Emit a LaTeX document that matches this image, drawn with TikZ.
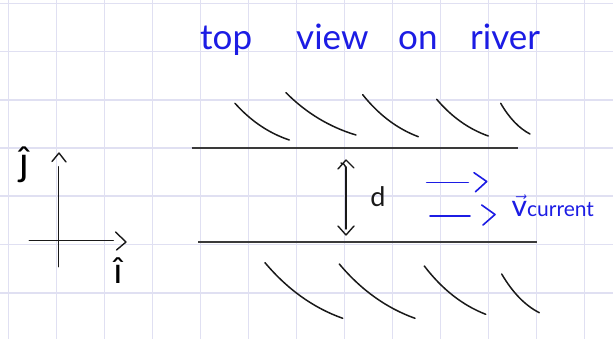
\documentclass[tikz,border=0pt]{standalone}
\usepackage{fontspec}
\setmainfont{Lato}
\usetikzlibrary{calc}
\definecolor{gridc}{RGB}{224,224,242}
\definecolor{handblue}{RGB}{28,28,228}
\definecolor{bankc}{RGB}{58,58,58}
\definecolor{inkc}{RGB}{25,25,25}
\tikzset{
  gridline/.style={draw=gridc, line width=1.6pt},
  bank/.style={draw=bankc, line width=2.3pt},
  hatch/.style={draw=inkc, line width=1.5pt, line cap=round},
  ink/.style={draw=inkc, line width=1.4pt, line cap=round, line join=round},
  blueink/.style={draw=handblue, line width=1.6pt, line cap=round, line join=round},
  title/.style={text=handblue, inner sep=0pt, anchor=base west, font=\fontsize{35}{35}\selectfont},
  lbl/.style={inner sep=0pt}
}
\begin{document}
\begin{tikzpicture}[x=1pt,y=-1pt]
\useasboundingbox (0,0) rectangle (613,339);
\fill[white] (0,0) rectangle (613,339);
% graph paper
\foreach \k in {0,...,12} \draw[gridline] ({8.3+48*\k},0) -- ({8.3+48*\k},339);
\foreach \k in {0,...,6} \draw[gridline] (0,{3.5+48.2*\k}) -- (613,{3.5+48.2*\k});

% title
\node[title] (w1) at (200,50) {top};
\node[title] (w2) at (296,50) {view};
\node[title] (w3) at (398,50) {on};
\node[title] (w4) at (470,50) {river};

% river banks
\coordinate (tb1) at (191.5,148.3);
\coordinate (tb2) at (518,148.3);
\coordinate (bb1) at (198,241.7);
\coordinate (bb2) at (537,241.7);
\draw[bank] (tb1) -- (tb2);
\draw[bank] (bb1) -- (bb2);

% upper hatching
\draw[hatch] (235,103.3) .. controls (250.7,120.9) and (268.8,133.1) .. (289.3,140);
\draw[hatch] (286,92.7) .. controls (306.2,113.0) and (329.6,127.1) .. (356,135);
\draw[hatch] (362.7,94.7) .. controls (378.8,114.9) and (397.3,128.8) .. (418.3,136.7);
\draw[hatch] (436.7,99.3) .. controls (451.6,116.9) and (468.8,129.1) .. (488.3,136);
\draw[hatch] (500.7,103.3) .. controls (509.2,118.0) and (519,128.3) .. (530,134);
% lower hatching
\draw[hatch] (265,262.7) .. controls (287.5,289.4) and (313.4,307.9) .. (342.7,318.3);
\draw[hatch] (339.3,264) .. controls (361.2,290.1) and (386.5,308.1) .. (415,318.3);
\draw[hatch] (424.3,266) .. controls (442.0,289.2) and (462.5,305.3) .. (485.7,314.3);
\draw[hatch] (501.7,274) .. controls (512.6,292.6) and (525.1,305.5) .. (539.3,312.7);

% axes
\coordinate (ay1) at (58.3,166.7);
\coordinate (ay2) at (58.3,266.7);
\coordinate (ax1) at (29.3,240.7);
\coordinate (ax2) at (113.3,240.7);
\draw[ink] (ay1) -- (ay2);
\draw[ink] (ax1) -- (ax2);
\draw[ink] (52,161.5) -- (59,153) -- (66,162);
\draw[ink] (115.5,232) -- (126,242) -- (116.5,250);
\node[lbl, font=\fontsize{40}{40}\selectfont] (jhat) at (24,165) {ĵ};
\node[lbl, font=\fontsize{36}{36}\selectfont] (ihat) at (118,271) {î};

% width d
\coordinate (d1) at (345.8,167);
\coordinate (d2) at (345.8,229);
\draw[ink] (d1) .. controls (344,164) .. (341,163);
\draw[ink] (d1) -- (d2);
\draw[ink] (338,169) -- (346,160) -- (354,168);
\draw[ink] (338,226) -- (346,235) -- (354,226);
\node[lbl, font=\fontsize{27}{27}\selectfont, text=inkc] (dl) at (378,197) {d};

% current arrows
\coordinate (a1s) at (426.7,182.7);
\coordinate (a1e) at (468.3,182.7);
\coordinate (a2s) at (430,216);
\coordinate (a2e) at (470,216);
\draw[blueink] (a1s) -- (a1e);
\draw[blueink] (474,172.7) -- (486.7,181.5) -- (475.5,191.7);
\draw[blueink] (a2s) -- (a2e);
\draw[blueink] (481.7,205) -- (495,214.5) -- (483,225);
\node[lbl, anchor=base west, text=handblue] (vc) at (511.5,217)
  {\fontsize{30}{30}\selectfont$\vec{\mbox{v}}$\fontsize{21}{21}\selectfont current};
\end{tikzpicture}
\end{document}
